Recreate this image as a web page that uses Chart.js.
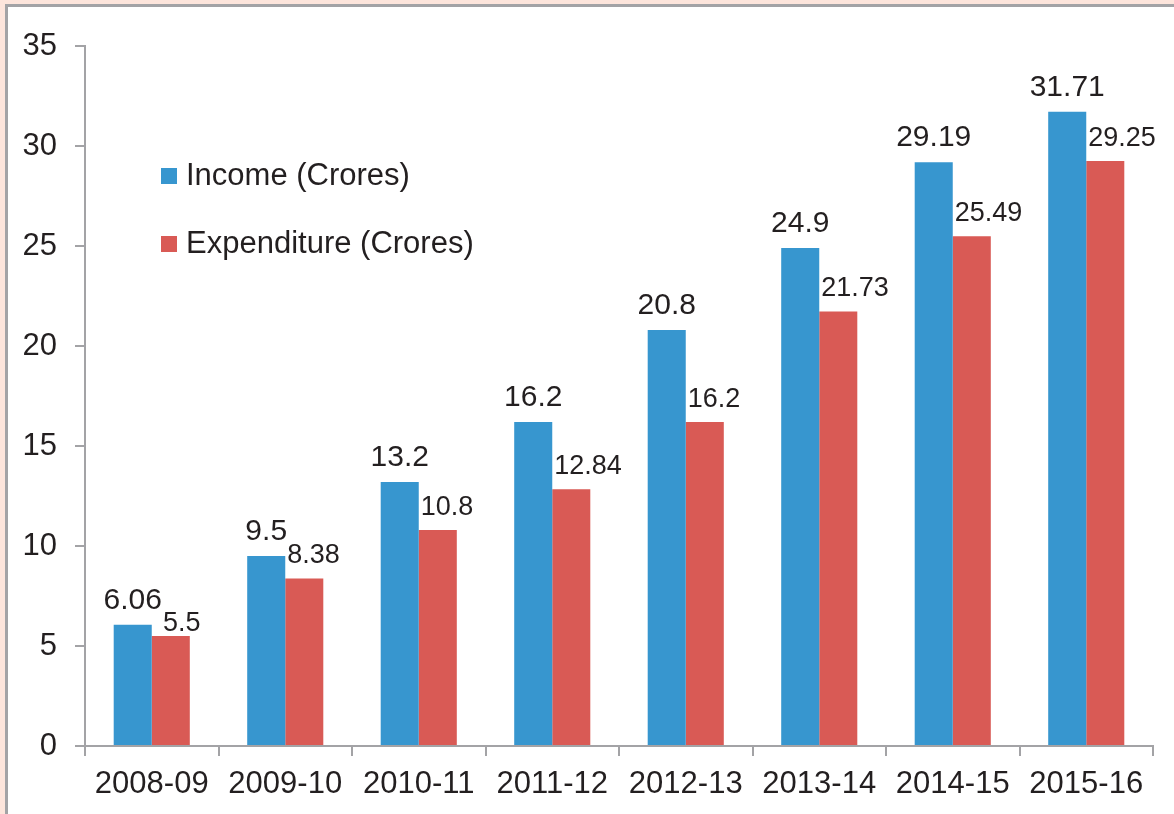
<!DOCTYPE html>
<html>
<head>
<meta charset="utf-8">
<script src="https://cdn.jsdelivr.net/npm/chart.js@4"></script>
<style>
  html, body { margin: 0; padding: 0; }
  body { width: 1174px; height: 814px; background: #fde5dc; position: relative; overflow: hidden; }
  #panel { position: absolute; left: 5px; top: 4px; width: 1200px; height: 850px; background: #ffffff; border-left: 3px solid #a3a3a6; border-top: 3px solid #a3a3a6; }
  canvas { position: absolute; left: 0; top: 0; }
</style>
</head>
<body>
<div id="panel"></div>
<canvas id="c" width="1174" height="814"></canvas>
<script>
const categories = ['2008-09', '2009-10', '2010-11', '2011-12', '2012-13', '2013-14', '2014-15', '2015-16'];
const income = [6.06, 9.5, 13.2, 16.2, 20.8, 24.9, 29.19, 31.71];
const expenditure = [5.5, 8.38, 10.8, 12.84, 16.2, 21.73, 25.49, 29.25];
const seriesNames = ['Income (Crores)', 'Expenditure (Crores)'];
const yMin = 0, yMax = 35, yStep = 5;

const FONT = '"Liberation Sans", Arial, Helvetica, sans-serif';
const TEXT = '#231f20';
const AXIS = '#a3a3a6';

const valueLabels = {
  id: 'valueLabels',
  afterDatasetsDraw(chart) {
    const ctx = chart.ctx;
    ctx.save();
    ctx.fillStyle = TEXT;
    ctx.textBaseline = 'alphabetic';
    const incMeta = chart.getDatasetMeta(0);
    const expMeta = chart.getDatasetMeta(1);
    const incData = chart.data.datasets[0].data;
    const expData = chart.data.datasets[1].data;
    incMeta.data.forEach((bar, i) => {
      const t = String(incData[i]);
      ctx.font = '30px ' + FONT;
      ctx.textAlign = 'center';
      const by = bar.y - 16;
      ctx.fillText(t, bar.x, by);
      const incRight = bar.x + ctx.measureText(t).width / 2;
      const eb = expMeta.data[i];
      const et = String(expData[i]);
      ctx.font = '27px ' + FONT;
      ctx.textAlign = 'left';
      let ex = eb.x - eb.width / 2 + 2;
      let ey = eb.y - 15;
      // avoid colliding with the income label (boxes overlap both ways)
      if (ex < incRight + 1 && ey - 20 < by && ey > by - 22) {
        ex = incRight + 1;
        ey = eb.y - 5;
      }
      ctx.fillText(et, ex, ey);
    });
    ctx.restore();
  }
};

const insideLegend = {
  id: 'insideLegend',
  afterDraw(chart) {
    const ctx = chart.ctx;
    const a = chart.chartArea;
    ctx.save();
    ctx.font = '31px ' + FONT;
    ctx.textBaseline = 'middle';
    ctx.textAlign = 'left';
    chart.data.datasets.forEach((ds, di) => {
      const x = a.left + 76;
      const cy = a.top + 130 + di * 68;
      ctx.fillStyle = ds.backgroundColor;
      ctx.fillRect(x, cy - 8, 16, 16);
      ctx.fillStyle = TEXT;
      ctx.fillText(ds.label, x + 25, cy);
    });
    ctx.restore();
  }
};

new Chart(document.getElementById('c'), {
  type: 'bar',
  data: {
    labels: categories,
    datasets: [
      { label: seriesNames[0], data: income, backgroundColor: '#3796cf', categoryPercentage: 0.57, barPercentage: 1.0 },
      { label: seriesNames[1], data: expenditure, backgroundColor: '#d95a55', categoryPercentage: 0.57, barPercentage: 1.0 }
    ]
  },
  options: {
    responsive: false,
    animation: false,
    devicePixelRatio: 1,
    layout: { padding: { left: 0, right: 21, top: 46, bottom: 0 } },
    plugins: { legend: { display: false }, tooltip: { enabled: false } },
    scales: {
      x: {
        grid: { drawOnChartArea: false, drawTicks: true, tickLength: 10, color: AXIS, lineWidth: 2, offset: true },
        border: { display: true, color: AXIS, width: 2 },
        ticks: { color: TEXT, font: { family: FONT, size: 31 }, padding: 10, maxRotation: 0, autoSkip: false },
        afterFit(scale) { scale.height = 68; }
      },
      y: {
        min: yMin, max: yMax,
        grid: { drawOnChartArea: false, drawTicks: true, tickLength: 10, color: AXIS, lineWidth: 2 },
        border: { display: true, color: AXIS, width: 2 },
        ticks: { stepSize: yStep, color: TEXT, font: { family: FONT, size: 31 }, padding: 18 },
        afterFit(scale) { scale.width = 85; }
      }
    }
  },
  plugins: [valueLabels, insideLegend]
});
</script>
</body>
</html>
